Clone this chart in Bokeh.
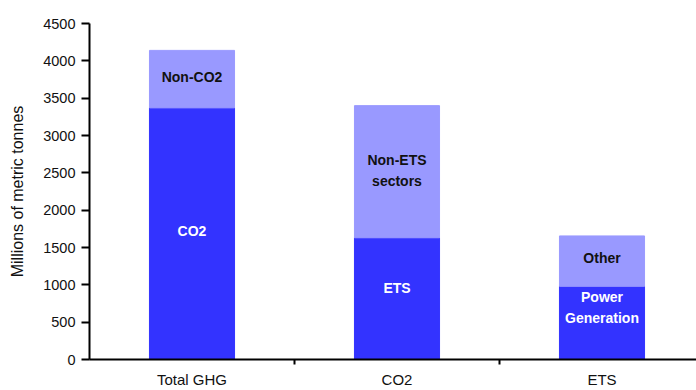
from bokeh.plotting import figure
from bokeh.models import Range1d, FixedTicker
from bokeh.core.properties import value
from bokeh.embed import file_html
from bokeh.resources import INLINE

# Emissions breakdown, millions of metric tonnes
categories = ["Total GHG", "CO2", "ETS"]
base_values = [3370, 1630, 980]          # lower segment of each bar
upper_values = [770, 1770, 675]          # segment stacked on top
base_labels = ["CO2", "ETS", "Power\nGeneration"]
upper_labels = ["Non-CO2", "Non-ETS\nsectors", "Other"]
y_ticks = [0, 500, 1000, 1500, 2000, 2500, 3000, 3500, 4000, 4500]

# where each segment label sits, as a fraction of the segment height
base_label_pos = [0.51, 0.59, 0.71]
upper_label_pos = [0.53, 0.51, 0.57]

FONT = "Liberation Sans"
DARK = "#3333FF"
LIGHT = "#9999FF"

xs = [i + 1 for i in range(len(categories))]
tops = [b + u for b, u in zip(base_values, upper_values)]

p = figure(width=696, height=390, output_backend="svg", toolbar_location=None,
           x_range=Range1d(0.5, 0.5 + 607 / 205), y_range=Range1d(0, 4500),
           min_border_left=89, min_border_right=0, min_border_top=23,
           min_border_bottom=30)
p.outline_line_color = None
p.xgrid.visible = False
p.ygrid.visible = False

bar_w = 0.415
p.vbar(x=xs, bottom=0, top=base_values, width=bar_w,
       fill_color=DARK, line_color=DARK)
p.vbar(x=xs, bottom=base_values, top=tops, width=bar_w,
       fill_color=LIGHT, line_color=LIGHT)

base_y = [b * f for b, f in zip(base_values, base_label_pos)]
upper_y = [b + u * f for b, u, f in zip(base_values, upper_values, upper_label_pos)]
p.text(x=xs, y=base_y, text=base_labels, text_align="center",
       text_baseline="middle", text_color="white", text_font=value(FONT),
       text_font_size="14px", text_font_style="bold", text_line_height=1.3)
p.text(x=xs, y=upper_y, text=upper_labels, text_align="center",
       text_baseline="middle", text_color="#111111", text_font=value(FONT),
       text_font_size="14px", text_font_style="bold", text_line_height=1.3)

# x axis: category names at bar centres, short marks between categories
xa = p.xaxis[0]
xa.ticker = FixedTicker(ticks=xs, minor_ticks=[x + 0.5 for x in xs])
xa.major_label_overrides = {x: c for x, c in zip(xs, categories)}
xa.major_tick_out = 0
xa.major_tick_in = 0
xa.minor_tick_out = 5
xa.minor_tick_in = 0
xa.minor_tick_line_color = "black"
xa.minor_tick_line_width = 2
xa.axis_line_color = "black"
xa.axis_line_width = 2
xa.major_label_standoff = 6
xa.major_label_text_font = FONT
xa.major_label_text_font_size = "15px"
xa.major_label_text_color = "#111111"

ya = p.yaxis[0]
ya.ticker = FixedTicker(ticks=y_ticks)
ya.minor_tick_line_color = None
ya.major_tick_out = 8
ya.major_tick_in = 0
ya.major_tick_line_color = "black"
ya.major_tick_line_width = 2
ya.axis_line_color = "black"
ya.axis_line_width = 2
ya.major_label_standoff = 6
ya.major_label_text_font = FONT
ya.major_label_text_font_size = "14.5px"
ya.major_label_text_color = "#111111"
ya.axis_label = "Millions of metric tonnes"
ya.axis_label_text_font = FONT
ya.axis_label_text_font_size = "16px"
ya.axis_label_text_font_style = "normal"
ya.axis_label_text_color = "#111111"
ya.axis_label_standoff = 14

open("out.html", "w").write(file_html(p, INLINE))
